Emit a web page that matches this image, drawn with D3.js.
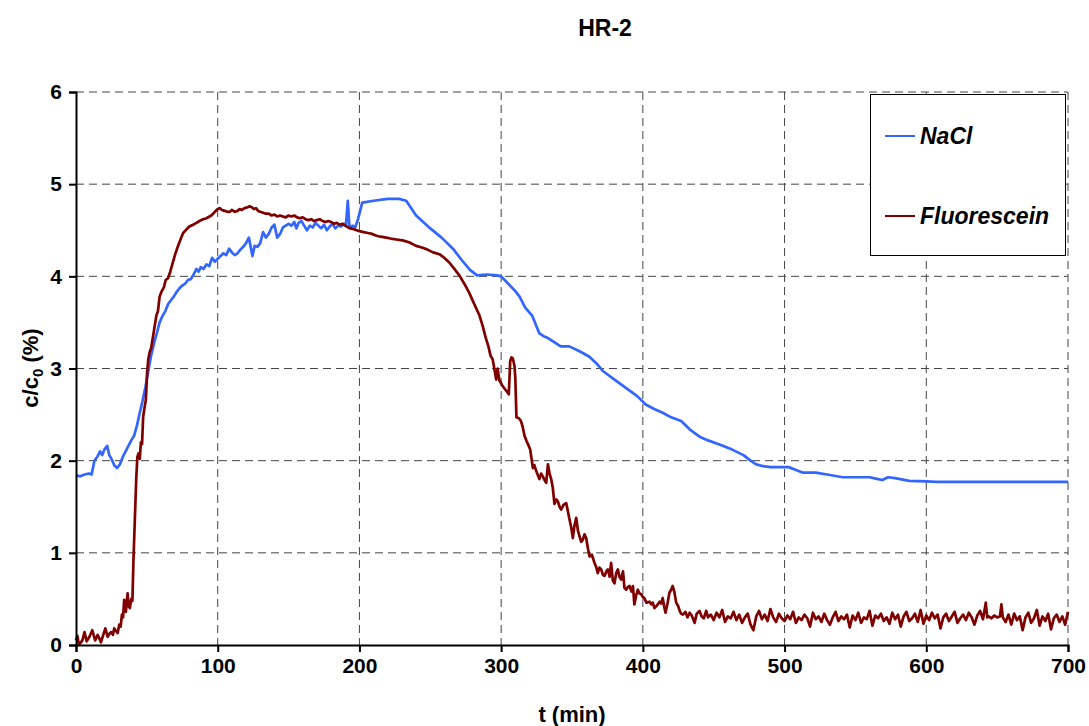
<!DOCTYPE html>
<html>
<head>
<meta charset="utf-8">
<script src="https://cdn.jsdelivr.net/npm/d3@7"></script>
<style>
  html, body { margin: 0; padding: 0; background: #fff; }
  svg { display: block; font-family: "Liberation Sans", Arial, sans-serif; }
</style>
</head>
<body>
<svg id="chart" width="1089" height="726"></svg>
<script>
// Breakthrough curves at HR-2: relative concentration c/c0 (%) over time t (min)
const chartTitle = "HR-2";
const xTicks = [0, 100, 200, 300, 400, 500, 600, 700];
const yTicks = [0, 1, 2, 3, 4, 5, 6];
const seriesNames = ["NaCl", "Fluorescein"];

const naclTime = [
  0, 3, 6, 9, 11, 13, 15, 17, 18.5, 20, 22, 23.5, 25, 27, 29, 31, 33, 35, 37, 39,
  41, 43, 45, 47, 49, 51, 53, 55, 57, 59, 61, 63, 65, 67, 69, 71, 73, 75, 77, 79,
  81, 83, 85, 86.5, 88, 90, 92, 94, 96, 98, 100, 102, 104, 106, 108, 110, 112, 114, 116, 118,
  120, 122, 123.5, 124.5, 126, 128, 130, 132, 134, 136, 138, 140, 142, 144, 146, 148, 150, 152, 154, 155.5,
  157, 159, 161, 163, 165, 167, 169, 171, 173, 175, 177, 179, 181, 183, 185, 187, 189, 190.5, 191.8, 193,
  195, 197, 199, 202, 210, 220, 228, 233, 240, 250, 258, 266, 272, 278, 283, 290, 297, 300, 305, 310,
  313, 317, 322, 327, 330, 333, 338, 342, 348, 355, 362, 367, 372, 380, 388, 396, 402, 408, 414, 420,
  427, 433, 440, 446, 455, 463, 471, 476, 480, 485, 490, 503, 508, 513, 522, 530, 541, 560, 566, 569,
  573, 578, 588, 600, 607, 700
];
const naclConc = [
  1.84, 1.83, 1.85, 1.86, 1.85, 2.00, 2.04, 2.10, 2.06, 2.12, 2.16, 2.06, 2.02, 1.95, 1.92, 1.96, 2.04, 2.10, 2.16, 2.22,
  2.27, 2.38, 2.52, 2.65, 2.80, 2.97, 3.14, 3.27, 3.38, 3.50, 3.57, 3.62, 3.70, 3.74, 3.78, 3.83, 3.87, 3.90, 3.92, 3.96,
  3.97, 4.02, 4.08, 4.05, 4.10, 4.08, 4.13, 4.11, 4.20, 4.16, 4.19, 4.22, 4.25, 4.23, 4.30, 4.26, 4.23, 4.25, 4.29, 4.32,
  4.36, 4.42, 4.30, 4.22, 4.33, 4.32, 4.36, 4.48, 4.42, 4.46, 4.53, 4.56, 4.42, 4.46, 4.53, 4.55, 4.57, 4.55, 4.59, 4.52,
  4.58, 4.60, 4.55, 4.50, 4.55, 4.53, 4.58, 4.55, 4.52, 4.56, 4.50, 4.54, 4.57, 4.52, 4.55, 4.54, 4.57, 4.56, 4.82, 4.52,
  4.55, 4.53, 4.62, 4.80, 4.82, 4.84, 4.84, 4.82, 4.66, 4.52, 4.42, 4.30, 4.18, 4.07, 4.01, 4.02, 4.01, 4.00, 3.92, 3.84,
  3.78, 3.66, 3.57, 3.38, 3.35, 3.33, 3.28, 3.24, 3.24, 3.19, 3.13, 3.06, 2.97, 2.88, 2.79, 2.70, 2.61, 2.56, 2.52, 2.47,
  2.43, 2.34, 2.26, 2.22, 2.17, 2.12, 2.06, 2.00, 1.96, 1.94, 1.93, 1.93, 1.90, 1.87, 1.87, 1.85, 1.82, 1.82, 1.80, 1.79,
  1.82, 1.81, 1.78, 1.775, 1.77, 1.77
];

const fluoTime = [
  0, 1, 2, 3, 4.5, 6, 7.5, 9.5, 11.5, 13.5, 15.3, 16.5, 17.6, 19, 20.7, 22.3, 23.5, 24.7, 26, 27,
  28.3, 29.4, 30.5, 31.5, 32.4, 33.2, 34, 35.2, 36.4, 37.2, 38, 39, 39.8, 40.6, 41.5, 42.5, 43.3, 44.2, 45, 45.8,
  46.6, 47.4, 48.4, 49.3, 50.2, 51, 52, 53, 54.5, 55.5, 56.8, 57.8, 59, 60.5, 62, 63.3, 65, 66.5, 68.5, 70,
  72, 74, 75.6, 78, 80, 82.6, 85, 87, 89.7, 92, 95.5, 98, 100, 101.4, 103, 105, 107, 108.5, 110, 112,
  114, 115.5, 117, 119, 121, 122.5, 124, 125.5, 127, 128.5, 130, 132, 134, 136, 138, 140, 142, 144, 146, 148,
  150, 152, 154, 156, 158, 160, 162, 164, 166, 168, 170, 172, 174, 176, 178, 180, 182, 184, 186, 188,
  190, 192, 194, 196, 198, 200, 203, 206, 209, 212, 215, 218.8, 222, 226, 230.5, 235, 240, 244.6, 248, 252,
  256.4, 260, 263.4, 267, 270.5, 274, 277.5, 281, 284.6, 287, 289, 291, 292.5, 294, 295.3, 296.5, 297.5, 298.8, 300, 301,
  302.5, 304, 305.4, 306.4, 307.2, 308.2, 309.4, 310, 310.8, 312.5, 314, 315.3, 316.5, 318, 319.5, 320.5, 322.4, 323.5, 324.7, 326,
  327, 328.2, 329.4, 330.6, 331.8, 333, 334.2, 335.3, 336.5, 337.6, 339, 340, 341.2, 342.4, 344, 345.9, 347, 348, 349.4, 350.6,
  351.8, 353, 354.2, 355.3, 356.5, 357.6, 358.8, 360, 361.2, 362.4, 364, 365.9, 367, 368.2, 369.4, 370.6, 371.8, 373, 374.2, 375.3,
  376.5, 377.6, 378.8, 380, 381.2, 382.4, 383.5, 384.7, 386, 387, 388.2, 389.4, 390.6, 392, 393, 394, 395.3, 396.5, 397.6, 398.8,
  400, 401, 402.5, 404.7, 406, 407, 408.2, 410, 411.8, 413, 414, 415, 416, 417.5, 418.8, 420, 421, 422.2, 423.5, 425,
  426, 427, 428.2, 430, 431.5, 433, 434.5, 436.5, 438, 440, 441.5, 443, 444.7, 446,
  448, 450, 452, 454, 456, 458, 460, 462, 464, 466, 468, 470, 472, 474, 476, 478, 480, 482, 484, 486,
  488, 490, 492, 494, 496, 498, 500, 502, 504, 506, 508, 510, 512, 514, 516, 518, 520, 522, 524, 526,
  528, 530, 532, 534, 536, 538, 540, 542, 544, 546, 548, 550, 552, 554, 556, 558, 560, 562, 564, 566,
  568, 570, 572, 574, 576, 578, 580, 582, 584, 586, 588, 590, 592, 594, 596, 598, 600, 602, 604, 606,
  608, 610, 612, 614, 616, 618, 620, 622, 624, 626, 628, 630, 632, 634, 636, 638, 640, 642, 643, 644,
  646, 648, 650, 652, 653, 654, 656, 658, 660, 662, 664, 666, 668, 670, 672, 674, 676, 678, 680, 682,
  684, 686, 688, 690, 692, 694, 696, 698, 700
];
const fluoConc = [
  0.05, 0.10, 0.00, 0.02, 0.05, 0.14, 0.04, 0.09, 0.16, 0.05, 0.11, 0.07, 0.03, 0.10, 0.18, 0.09, 0.12, 0.14, 0.11, 0.18,
  0.15, 0.13, 0.22, 0.20, 0.33, 0.30, 0.49, 0.36, 0.56, 0.42, 0.40, 0.50, 0.48, 0.95, 1.35, 1.80, 2.04, 2.08, 2.02, 2.20,
  2.18, 2.48, 2.58, 2.66, 2.96, 3.10, 3.18, 3.22, 3.36, 3.46, 3.58, 3.62, 3.78, 3.84, 3.88, 3.96, 3.98, 4.05, 4.16, 4.24,
  4.33, 4.41, 4.47, 4.51, 4.54, 4.56, 4.58, 4.60, 4.62, 4.63, 4.66, 4.70, 4.73, 4.74, 4.72, 4.71, 4.70, 4.70, 4.72, 4.70,
  4.71, 4.73, 4.72, 4.74, 4.75, 4.76, 4.75, 4.73, 4.74, 4.71, 4.70, 4.69, 4.68, 4.68, 4.66, 4.67, 4.65, 4.66, 4.65, 4.64,
  4.66, 4.65, 4.66, 4.64, 4.63, 4.64, 4.62, 4.61, 4.62, 4.60, 4.61, 4.62, 4.60, 4.59, 4.60, 4.59, 4.57, 4.58, 4.56, 4.57,
  4.55, 4.53, 4.52, 4.51, 4.50, 4.49, 4.48, 4.47, 4.46, 4.44, 4.43, 4.42, 4.41, 4.40, 4.39, 4.37, 4.33, 4.31, 4.29, 4.26,
  4.24, 4.20, 4.15, 4.08, 4.01, 3.92, 3.82, 3.70, 3.58, 3.46, 3.34, 3.24, 3.14, 3.10, 2.99, 2.88, 3.00, 2.87, 2.84, 2.81,
  2.78, 2.75, 2.72, 3.08, 3.12, 3.11, 3.03, 2.90, 2.47, 2.46, 2.43, 2.36, 2.27, 2.21, 2.16, 2.12, 1.92, 1.95, 1.89, 1.84,
  1.80, 1.86, 1.83, 1.79, 1.76, 1.96, 1.86, 1.80, 1.70, 1.53, 1.58, 1.56, 1.50, 1.47, 1.52, 1.54, 1.46, 1.38, 1.28, 1.16,
  1.30, 1.38, 1.24, 1.18, 1.12, 1.14, 1.20, 1.16, 1.05, 0.96, 0.98, 0.89, 0.85, 0.78, 0.84, 0.82, 0.76, 0.75, 0.80, 0.82,
  0.74, 0.89, 0.70, 0.67, 0.78, 0.82, 0.74, 0.71, 0.80, 0.62, 0.60, 0.63, 0.64, 0.58, 0.64, 0.44, 0.54, 0.60, 0.56, 0.55,
  0.52, 0.51, 0.46, 0.47, 0.44, 0.46, 0.40, 0.43, 0.47, 0.45, 0.51, 0.42, 0.35, 0.46, 0.57, 0.60, 0.64, 0.58, 0.46, 0.42,
  0.37, 0.34, 0.33, 0.36, 0.30, 0.35, 0.32, 0.24, 0.34, 0.37, 0.31, 0.29, 0.37, 0.30,
  0.33, 0.27, 0.35, 0.30, 0.38, 0.25, 0.31, 0.29, 0.36, 0.27, 0.33, 0.24, 0.30, 0.34, 0.22, 0.16, 0.31, 0.37, 0.28, 0.33,
  0.26, 0.39, 0.30, 0.25, 0.34, 0.29, 0.26, 0.32, 0.28, 0.36, 0.24, 0.30, 0.27, 0.33, 0.29, 0.20, 0.35, 0.28, 0.31, 0.25,
  0.34, 0.27, 0.22, 0.30, 0.36, 0.26, 0.31, 0.28, 0.33, 0.19, 0.32, 0.27, 0.35, 0.24, 0.30, 0.28, 0.37, 0.21, 0.32, 0.29,
  0.34, 0.26, 0.30, 0.23, 0.35, 0.28, 0.33, 0.20, 0.31, 0.36, 0.26, 0.29, 0.34, 0.25, 0.38, 0.23, 0.32, 0.27, 0.35, 0.29,
  0.33, 0.18, 0.30, 0.34, 0.26, 0.31, 0.36, 0.24, 0.29, 0.33, 0.27, 0.35, 0.30, 0.22, 0.32, 0.37, 0.28, 0.46, 0.30, 0.31,
  0.29, 0.32, 0.30, 0.31, 0.44, 0.30, 0.25, 0.33, 0.22, 0.34, 0.27, 0.31, 0.16, 0.30, 0.35, 0.24, 0.29, 0.38, 0.21, 0.31,
  0.26, 0.34, 0.17, 0.29, 0.33, 0.25, 0.31, 0.22, 0.36
];

const colors = { NaCl: "#3366ff", Fluorescein: "#800000" };

const svg = d3.select("#chart");
const plot = { left: 76, right: 1068, top: 92, bottom: 645 };

const x = d3.scaleLinear().domain([0, 700]).range([plot.left, plot.right]);
const y = d3.scaleLinear().domain([0, 6]).range([plot.bottom, plot.top]);

// dashed grid
const grid = svg.append("g").attr("stroke", "#444").attr("stroke-width", 1).attr("stroke-dasharray", "8,5");
grid.selectAll("line.h").data(yTicks.filter(d => d > 0)).join("line")
  .attr("x1", plot.left).attr("x2", plot.right)
  .attr("y1", d => y(d)).attr("y2", d => y(d));
grid.selectAll("line.v").data(xTicks.filter(d => d > 0)).join("line")
  .attr("y1", plot.top).attr("y2", plot.bottom)
  .attr("x1", d => x(d)).attr("x2", d => x(d));

// data lines
const line = d3.line().x(d => x(d[0])).y(d => y(d[1]));
const naclData = naclTime.map((t, i) => [t, naclConc[i]]);
const fluoData = fluoTime.map((t, i) => [t, fluoConc[i]]);

svg.append("path").datum(naclData)
  .attr("fill", "none").attr("stroke", colors.NaCl).attr("stroke-width", 2.7)
  .attr("stroke-linejoin", "round").attr("d", line);
svg.append("path").datum(fluoData)
  .attr("fill", "none").attr("stroke", colors.Fluorescein).attr("stroke-width", 2.7)
  .attr("stroke-linejoin", "round").attr("d", line);

// axes
const xAxis = d3.axisBottom(x).tickValues(xTicks).tickFormat(d3.format("d")).tickSize(7).tickPadding(6);
const yAxis = d3.axisLeft(y).tickValues(yTicks).tickFormat(d3.format("d")).tickSize(7).tickPadding(7);

const gx = svg.append("g").attr("transform", `translate(0,${plot.bottom})`).call(xAxis);
const gy = svg.append("g").attr("transform", `translate(${plot.left},0)`).call(yAxis);
[gx, gy].forEach(g => {
  g.attr("font-size", null).attr("font-family", null);
  g.select(".domain").attr("stroke", "#000").attr("stroke-width", 2);
  g.selectAll(".tick line").attr("stroke", "#000").attr("stroke-width", 2);
  g.selectAll(".tick text").attr("fill", "#000")
    .style("font-family", "'Liberation Sans', Arial, sans-serif")
    .style("font-size", "21px").style("font-weight", "bold");
});

// title
svg.append("text").attr("x", 605).attr("y", 36).attr("text-anchor", "middle")
  .style("font-size", "23px").style("font-weight", "bold").text(chartTitle);

// axis titles
svg.append("text").attr("x", 572).attr("y", 722).attr("text-anchor", "middle")
  .style("font-size", "22px").style("font-weight", "bold").text("t (min)");

const yLab = svg.append("text")
  .attr("transform", "translate(38,368) rotate(-90)")
  .attr("text-anchor", "middle")
  .style("font-size", "22px").style("font-weight", "bold");
yLab.append("tspan").text("c/c");
yLab.append("tspan").attr("dy", 5).style("font-size", "15px").text("0");
yLab.append("tspan").attr("dy", -5).text(" (%)");

// legend
const legend = svg.append("g");
legend.append("rect").attr("x", 870.5).attr("y", 94.5).attr("width", 195).attr("height", 161)
  .attr("fill", "#fff").attr("stroke", "#000").attr("stroke-width", 1);
const legendY = [136, 216];
seriesNames.forEach((name, i) => {
  legend.append("line").attr("x1", 885).attr("x2", 915)
    .attr("y1", legendY[i]).attr("y2", legendY[i])
    .attr("stroke", colors[name]).attr("stroke-width", 2);
  legend.append("text").attr("x", 920).attr("y", legendY[i] + 8)
    .style("font-size", "23px").style("font-weight", "bold").style("font-style", "italic")
    .text(name);
});
</script>
</body>
</html>
